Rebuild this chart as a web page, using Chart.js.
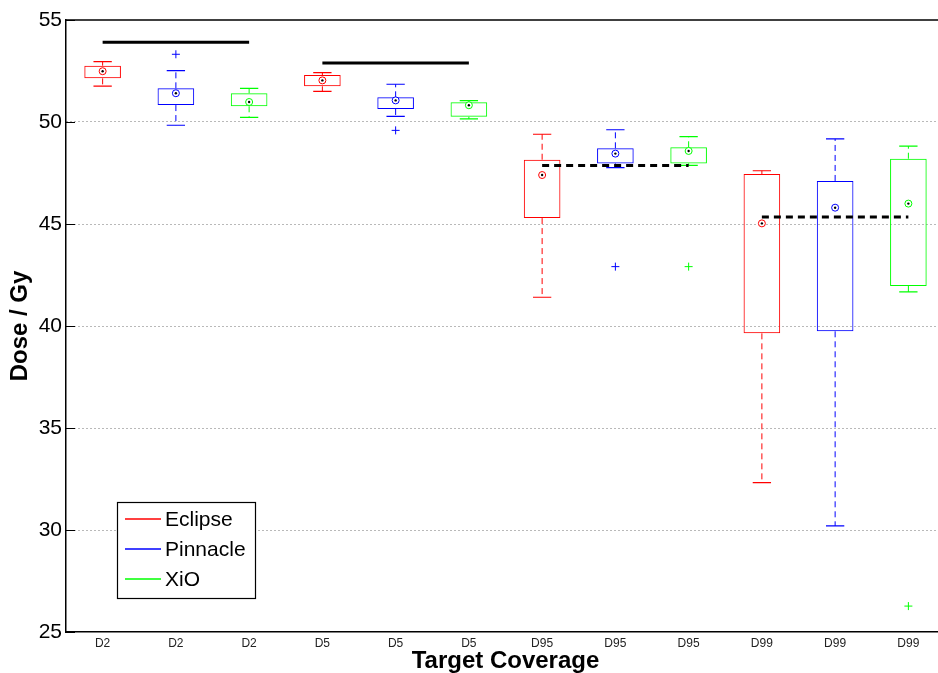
<!DOCTYPE html>
<html>
<head>
<meta charset="utf-8">
<script src="https://cdn.jsdelivr.net/npm/chart.js@4.4.1/dist/chart.umd.min.js"></script>
<style>
  html, body { margin: 0; padding: 0; background: #fff; overflow: hidden; }
  #wrap { width: 950px; height: 673px; }
</style>
</head>
<body>
<div id="wrap"><canvas id="boxChart"></canvas></div>
<script>
// categories and series
const metrics = ["D2", "D5", "D95", "D99"];
const systems = ["Eclipse", "Pinnacle", "XiO"];

// box statistics, [system][metric]
const upperWhisker = [
  [52.96, 52.42, 49.40, 47.61],
  [52.52, 51.85, 49.62, 49.17],
  [51.65, 51.05, 49.28, 48.82],
];
const upperQuartile = [
  [52.76, 52.30, 48.15, 47.45],
  [51.65, 51.21, 48.71, 47.11],
  [51.41, 50.97, 48.76, 48.20],
];
const lowerQuartile = [
  [52.14, 51.75, 45.29, 39.64],
  [50.83, 50.64, 47.97, 39.74],
  [50.77, 50.26, 47.97, 41.96],
];
const lowerWhisker = [
  [51.76, 51.50, 41.41, 32.32],
  [49.84, 50.28, 47.76, 30.20],
  [50.23, 50.15, 47.87, 41.67],
];
const centerMark = [
  [52.49, 52.04, 47.40, 45.03],
  [51.41, 51.06, 48.45, 45.80],
  [50.98, 50.82, 48.58, 46.00],
];
// outliers: [metric index, value]
const outliers = [
  [],
  [[0, 53.32], [1, 49.59], [2, 42.91]],
  [[2, 42.91], [3, 26.27]],
];
// black reference level for each metric
const refLevel = [53.91, 52.89, 47.87, 45.34];
const refDashed = [false, false, true, true];

const yTicks = [25, 30, 35, 40, 45, 50, 55];

// styles
const colors = ["#ff0000", "#0000ff", "#00ff00"];
const CAP = 0.125;

Chart.defaults.font.family = "'Liberation Sans', Arial, sans-serif";
Chart.defaults.color = "#000";

const tickLabels = [];
const tickPos = [];
metrics.forEach((m, i) => {
  systems.forEach((s, j) => {
    tickLabels.push(m);
    tickPos.push(i * 3 + j + 1);
  });
});

const datasets = [];
systems.forEach((name, s) => {
  const col = colors[s];
  const xs = metrics.map((m, i) => i * 3 + s + 1);

  // box
  datasets.push({
    type: "bar",
    label: name,
    data: xs.map((x, i) => ({ x: x, y: [lowerQuartile[s][i], upperQuartile[s][i]] })),
    backgroundColor: "rgba(0,0,0,0)",
    borderColor: col,
    borderWidth: 1,
    borderSkipped: false,
    barPercentage: 0.5,
    categoryPercentage: 1,
    grouped: false,
    order: 5,
  });

  // whiskers (dashed) and caps (solid)
  const whisk = [];
  const caps = [];
  xs.forEach((x, i) => {
    whisk.push({ x: x, y: upperQuartile[s][i] }, { x: x, y: upperWhisker[s][i] }, { x: x, y: null });
    whisk.push({ x: x, y: lowerQuartile[s][i] }, { x: x, y: lowerWhisker[s][i] }, { x: x, y: null });
    caps.push({ x: x - CAP, y: upperWhisker[s][i] }, { x: x + CAP, y: upperWhisker[s][i] }, { x: x, y: null });
    caps.push({ x: x - CAP, y: lowerWhisker[s][i] }, { x: x + CAP, y: lowerWhisker[s][i] }, { x: x, y: null });
  });
  datasets.push({
    type: "line", label: name + " whisker", data: whisk,
    borderColor: col, borderWidth: 1, borderDash: [6, 4],
    pointRadius: 0, spanGaps: false, order: 5,
  });
  datasets.push({
    type: "line", label: name + " cap", data: caps,
    borderColor: col, borderWidth: 1.2,
    pointRadius: 0, spanGaps: false, order: 5,
  });

  // circle marker + centre dot
  const marks = xs.map((x, i) => ({ x: x, y: centerMark[s][i] }));
  datasets.push({
    type: "line", label: name + " mark", data: marks, showLine: false,
    pointStyle: "circle", pointRadius: 3.5, pointBorderWidth: 1,
    pointBorderColor: col, pointBackgroundColor: "#fff", order: 1,
  });
  datasets.push({
    type: "line", label: name + " dot", data: marks, showLine: false,
    pointStyle: "circle", pointRadius: 1.2, pointBorderWidth: 0,
    pointBackgroundColor: "#000", order: 0,
  });

  // outliers
  datasets.push({
    type: "line", label: name + " outlier",
    data: outliers[s].map((o) => ({ x: o[0] * 3 + s + 1, y: o[1] })),
    showLine: false, pointStyle: "cross", pointRadius: 4, pointBorderWidth: 1,
    pointBorderColor: col, order: 1,
  });
});

// reference lines across the three systems
metrics.forEach((m, i) => {
  datasets.push({
    type: "line", label: m + " ref",
    data: [{ x: i * 3 + 1, y: refLevel[i] }, { x: i * 3 + 3, y: refLevel[i] }],
    borderColor: "#000", borderWidth: 3,
    borderDash: refDashed[i] ? [7, 5] : [],
    pointRadius: 0, order: 2,
  });
});

const framePlugin = {
  id: "framePlugin",
  afterDatasetsDraw: (chart) => {
    const ctx = chart.ctx;
    const a = chart.chartArea;
    const yScale = chart.scales.y;
    ctx.save();
    ctx.strokeStyle = "#000";
    ctx.lineWidth = 1.5;
    // top edge of the axes box
    ctx.beginPath();
    ctx.moveTo(a.left, a.top);
    ctx.lineTo(a.right, a.top);
    ctx.stroke();
    // inward tick marks on the left
    ctx.lineWidth = 1;
    yTicks.forEach((v) => {
      const y = Math.round(yScale.getPixelForValue(v)) + 0.5;
      ctx.beginPath();
      ctx.moveTo(a.left, y);
      ctx.lineTo(a.left + 9, y);
      ctx.stroke();
    });

    // legend box
    const bx = a.left + 51, by = a.bottom - 130, bw = 138, bh = 96;
    ctx.fillStyle = "#fff";
    ctx.fillRect(bx, by, bw, bh);
    ctx.strokeStyle = "#000";
    ctx.lineWidth = 1.2;
    ctx.strokeRect(bx + 0.5, by + 0.5, bw, bh);
    ctx.font = "21px 'Liberation Sans', Arial, sans-serif";
    ctx.textBaseline = "middle";
    systems.forEach((name, s) => {
      const ly = by + 17 + s * 30;
      ctx.strokeStyle = colors[s];
      ctx.lineWidth = 1.4;
      ctx.beginPath();
      ctx.moveTo(bx + 8, ly);
      ctx.lineTo(bx + 44, ly);
      ctx.stroke();
      ctx.fillStyle = "#000";
      ctx.fillText(name, bx + 48, ly + 1);
    });
    ctx.restore();
  },
};

const chart = new Chart(document.getElementById("boxChart"), {
  type: "bar",
  data: { datasets: datasets },
  plugins: [framePlugin],
  options: {
    responsive: true,
    maintainAspectRatio: false,
    animation: false,
    layout: { padding: { top: 20, left: 0, right: 5, bottom: 0 } },
    plugins: {
      legend: { display: false },
      tooltip: { enabled: false },
    },
    scales: {
      x: {
        type: "linear",
        min: 0.5,
        max: 12.5,
        offset: false,
        afterBuildTicks: (scale) => {
          scale.ticks = tickPos.map((v) => ({ value: v }));
        },
        afterFit: (scale) => {
          scale.height = 41;
        },
        ticks: {
          font: { size: 12 },
          color: "#222",
          padding: 4,
          maxRotation: 0,
          autoSkip: false,
          callback: function (value, index) {
            return tickLabels[index];
          },
        },
        grid: { display: false, drawTicks: false, offset: false },
        border: { display: true, color: "#000", width: 1.5 },
        title: {
          display: true,
          text: "Target Coverage",
          font: { size: 24, weight: "bold", lineHeight: 1 },
          padding: { top: 0, bottom: 0 },
          color: "#000",
        },
      },
      y: {
        type: "linear",
        min: 25,
        max: 55,
        afterBuildTicks: (scale) => {
          scale.ticks = yTicks.map((v) => ({ value: v }));
        },
        afterFit: (scale) => {
          scale.width = 66;
        },
        ticks: {
          font: { size: 21 },
          color: "#000",
          padding: 4,
        },
        grid: {
          drawTicks: false,
          lineWidth: 1,
          color: function (context) {
            const v = context.tick ? context.tick.value : null;
            return v === 25 || v === 55 ? "transparent" : "rgba(0,0,0,0.55)";
          },
        },
        border: { display: true, color: "#000", width: 1.5, dash: [1, 3] },
        title: {
          display: true,
          text: "Dose / Gy",
          font: { size: 24, weight: "bold", lineHeight: 1 },
          padding: { top: 8, bottom: 0 },
          color: "#000",
        },
      },
    },
  },
});
</script>
</body>
</html>
